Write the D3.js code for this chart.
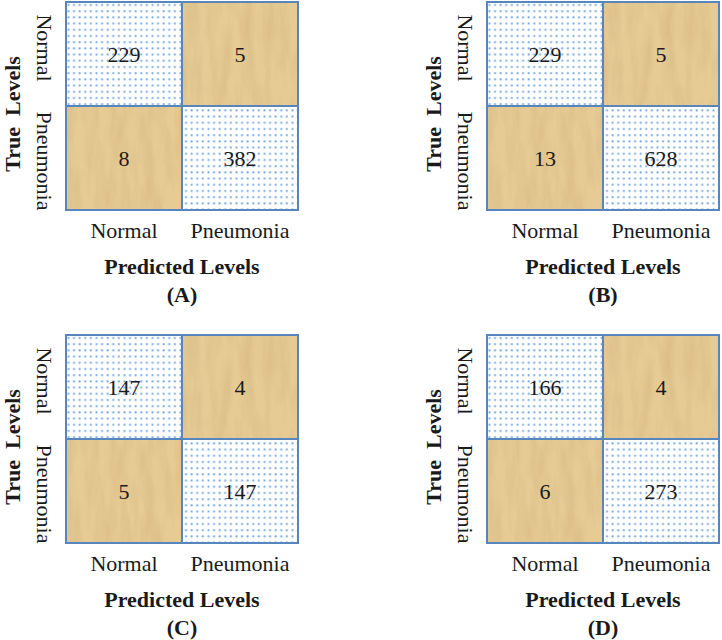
<!DOCTYPE html>
<html>

<head>
    <style>
        body {
            margin: 0;
            background-color: #ffffff;
        }

        svg text {
            font-family: 'Liberation Serif', serif;
        }
    </style>
    <script src="https://d3js.org/d3.v7.min.js"></script>
    <title>Confusion matrices</title>
</head>

<body>
    <svg id="chart" width="722" height="640"></svg>

    <script>
        // data
        var classes = ["Normal", "Pneumonia"];
        var panelNames = ["(A)", "(B)", "(C)", "(D)"];
        var matrixA = [[229, 5], [8, 382]];
        var matrixB = [[229, 5], [13, 628]];
        var matrixC = [[147, 4], [5, 147]];
        var matrixD = [[166, 4], [6, 273]];
        var matrices = [matrixA, matrixB, matrixC, matrixD];

        var canvas = d3.select("#chart");

        var cellW = 116;
        var cellH = 104;
        var origins = [[66, 2], [487, 2], [66, 335], [487, 335]];

        var defs = canvas.append("defs");

        // dotted fill for the diagonal cells
        var dots = defs.append("pattern")
            .attr("id", "dots")
            .attr("patternUnits", "userSpaceOnUse")
            .attr("width", 5.6)
            .attr("height", 6.2);
        dots.append("rect")
            .attr("width", 5.6)
            .attr("height", 6.2)
            .style("fill", "#ffffff");
        dots.append("rect")
            .attr("x", 1.5)
            .attr("y", 2)
            .attr("width", 1.9)
            .attr("height", 1.9)
            .style("fill", "#6fa5de");

        // streaky overlay for the papyrus cells
        var paper = defs.append("filter")
            .attr("id", "paper")
            .attr("x", 0).attr("y", 0)
            .attr("width", 1).attr("height", 1)
            .attr("color-interpolation-filters", "sRGB");
        paper.append("feTurbulence")
            .attr("type", "fractalNoise")
            .attr("baseFrequency", "0.09 0.018")
            .attr("numOctaves", 3)
            .attr("seed", 7)
            .attr("result", "noise");
        paper.append("feColorMatrix")
            .attr("in", "noise")
            .attr("type", "matrix")
            .attr("values",
                "0 0 0 0 0.7 " +
                "0 0 0 0 0.56 " +
                "0 0 0 0 0.34 " +
                "0.4 0 0 0 -0.15")
            .attr("result", "streaks");
        paper.append("feComposite")
            .attr("in", "streaks")
            .attr("in2", "SourceAlpha")
            .attr("operator", "in");

        matrices.forEach(function (m, p) {
            var g = canvas.append("g")
                .attr("transform", "translate(" + origins[p][0] + "," + origins[p][1] + ")");

            var xScale = d3.scaleBand()
                .domain(classes)
                .range([0, cellW * 2]);
            var yScale = d3.scaleBand()
                .domain(classes)
                .range([0, cellH * 2]);

            var cells = [];
            classes.forEach(function (t, i) {
                classes.forEach(function (pr, j) {
                    cells.push({ truth: t, pred: pr, value: m[i][j], diag: i === j });
                });
            });

            g.selectAll("rect.cell")
                .data(cells)
                .enter()
                .append("rect")
                .attr("class", "cell")
                .attr("x", function (d) { return xScale(d.pred); })
                .attr("y", function (d) { return yScale(d.truth); })
                .attr("width", xScale.bandwidth())
                .attr("height", yScale.bandwidth())
                .style("fill", function (d) { return d.diag ? "url(#dots)" : "#e6cb94"; });

            g.selectAll("rect.texture")
                .data(cells.filter(function (d) { return !d.diag; }))
                .enter()
                .append("rect")
                .attr("class", "texture")
                .attr("x", function (d) { return xScale(d.pred); })
                .attr("y", function (d) { return yScale(d.truth); })
                .attr("width", xScale.bandwidth())
                .attr("height", yScale.bandwidth())
                .style("fill", "#000")
                .attr("filter", "url(#paper)");

            g.selectAll("rect.border")
                .data(cells)
                .enter()
                .append("rect")
                .attr("class", "border")
                .attr("x", function (d) { return xScale(d.pred); })
                .attr("y", function (d) { return yScale(d.truth); })
                .attr("width", xScale.bandwidth())
                .attr("height", yScale.bandwidth())
                .style("fill", "none")
                .style("stroke", "#5686bd")
                .style("stroke-width", "2px");

            g.selectAll("text.value")
                .data(cells)
                .enter()
                .append("text")
                .attr("class", "value")
                .attr("x", function (d) { return xScale(d.pred) + xScale.bandwidth() / 2; })
                .attr("y", function (d) { return yScale(d.truth) + yScale.bandwidth() / 2; })
                .attr("text-anchor", "middle")
                .attr("dy", "0.35em")
                .style("font-size", "22px")
                .style("fill", "#1a1a1a")
                .text(function (d) { return d.value; });

            // predicted class labels
            g.selectAll("text.xlab")
                .data(classes)
                .enter()
                .append("text")
                .attr("class", "xlab")
                .attr("x", function (d) { return xScale(d) + xScale.bandwidth() / 2; })
                .attr("y", cellH * 2 + 20)
                .attr("text-anchor", "middle")
                .attr("dy", "0.35em")
                .style("font-size", "22px")
                .style("fill", "#1a1a1a")
                .text(function (d) { return d; });

            // true class labels, rotated
            g.selectAll("text.ylab")
                .data(classes)
                .enter()
                .append("text")
                .attr("class", "ylab")
                .attr("transform", function (d, i) {
                    var shift = i === 0 ? -6 : 3;
                    return "translate(-21," + (yScale(d) + yScale.bandwidth() / 2 + shift) + ") rotate(90)";
                })
                .attr("text-anchor", "middle")
                .attr("dy", "0.35em")
                .style("font-size", "22px")
                .style("fill", "#1a1a1a")
                .text(function (d) { return d; });

            g.append("text")
                .attr("transform", "translate(-54," + (cellH + 8) + ") rotate(-90)")
                .attr("text-anchor", "middle")
                .attr("dy", "0.35em")
                .style("font-size", "22px")
                .style("font-weight", "bold")
                .style("white-space", "pre")
                .style("fill", "#1a1a1a")
                .text("True  Levels");

            g.append("text")
                .attr("x", cellW)
                .attr("y", cellH * 2 + 56)
                .attr("text-anchor", "middle")
                .attr("dy", "0.35em")
                .style("font-size", "22px")
                .style("font-weight", "bold")
                .style("fill", "#1a1a1a")
                .text("Predicted Levels");

            g.append("text")
                .attr("x", cellW)
                .attr("y", cellH * 2 + 84)
                .attr("text-anchor", "middle")
                .attr("dy", "0.35em")
                .style("font-size", "22px")
                .style("font-weight", "bold")
                .style("fill", "#1a1a1a")
                .text(panelNames[p]);
        });
    </script>
</body>

</html>
